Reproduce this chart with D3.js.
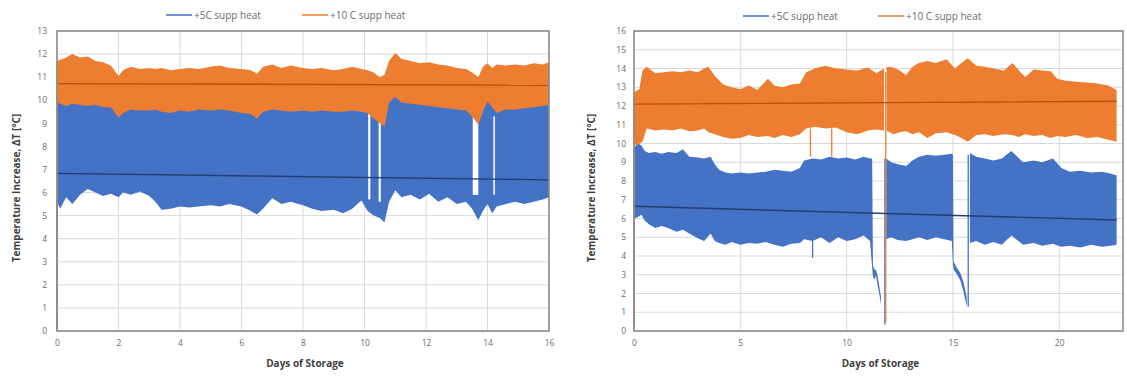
<!DOCTYPE html>
<html>
<head>
<meta charset="utf-8">
<script src="https://cdn.jsdelivr.net/npm/d3@7"></script>
<style>
  html, body { margin: 0; padding: 0; background: #fff; }
  svg { display: block; font-family: "Open Sans", Lato, sans-serif; }
</style>
</head>
<body>
<svg id="chart" width="1127" height="376"></svg>
<script>
// ---- legend labels ----
const seriesNames = ['+5C supp heat', '+10 C supp heat'];

// ---- left panel (16 days) ----
const leftDays = [0, 0.1, 0.3, 0.5, 0.75, 1.0, 1.25, 1.5, 1.75, 2.0, 2.15, 2.4, 2.7, 3.0, 3.2, 3.4, 3.7, 4.0, 4.3, 4.6, 5.0, 5.3, 5.6, 6.0, 6.3, 6.5, 6.7, 7.0, 7.3, 7.6, 8.0, 8.3, 8.6, 9.0, 9.3, 9.6, 9.9, 10.1, 10.3, 10.5, 10.65, 10.8, 11.0, 11.2, 11.5, 11.8, 12.1, 12.4, 12.7, 13.0, 13.3, 13.5, 13.7, 13.85, 14.0, 14.15, 14.3, 14.6, 14.9, 15.2, 15.5, 15.8, 16.0];
const leftOrangeHi = [11.7, 11.75, 11.85, 12.0, 11.85, 11.9, 11.7, 11.65, 11.5, 11.05, 11.3, 11.45, 11.35, 11.4, 11.35, 11.4, 11.3, 11.35, 11.4, 11.35, 11.45, 11.5, 11.4, 11.35, 11.3, 11.15, 11.45, 11.55, 11.4, 11.5, 11.4, 11.35, 11.4, 11.3, 11.35, 11.45, 11.35, 11.3, 11.2, 11.0, 11.1, 11.7, 12.05, 11.8, 11.7, 11.6, 11.65, 11.55, 11.5, 11.4, 11.35, 11.2, 11.0, 11.45, 11.6, 11.4, 11.55, 11.5, 11.55, 11.5, 11.6, 11.55, 11.65];
const leftOrangeLo = [9.9, 9.85, 9.75, 9.85, 9.8, 9.75, 9.8, 9.7, 9.7, 9.25, 9.45, 9.6, 9.55, 9.55, 9.6, 9.5, 9.45, 9.55, 9.5, 9.6, 9.55, 9.6, 9.55, 9.45, 9.4, 9.2, 9.5, 9.6, 9.55, 9.5, 9.55, 9.5, 9.55, 9.5, 9.5, 9.55, 9.5, 9.45, 9.2, 9.0, 8.85, 9.9, 10.15, 9.9, 9.85, 9.8, 9.75, 9.7, 9.65, 9.6, 9.55, 9.3, 8.95, 9.5, 9.95, 9.7, 9.45, 9.6, 9.6, 9.65, 9.7, 9.75, 9.8];
const leftBlueHi = [10.0, 10.0, 9.9, 10.0, 9.95, 9.9, 9.95, 9.85, 9.85, 9.4, 9.6, 9.75, 9.7, 9.7, 9.75, 9.65, 9.6, 9.7, 9.65, 9.75, 9.7, 9.75, 9.7, 9.6, 9.55, 9.35, 9.65, 9.75, 9.7, 9.65, 9.7, 9.65, 9.7, 9.65, 9.65, 9.7, 9.65, 9.6, 9.35, 9.15, 9.0, 10.05, 10.3, 10.05, 10.0, 9.95, 9.9, 9.85, 9.8, 9.75, 9.7, 9.45, 9.1, 9.65, 10.1, 9.85, 9.6, 9.75, 9.75, 9.8, 9.85, 9.9, 9.95];
const leftBlueLo = [5.6, 5.3, 5.8, 5.5, 5.9, 6.15, 6.0, 5.85, 5.95, 5.8, 6.0, 5.9, 6.05, 5.85, 5.6, 5.25, 5.3, 5.4, 5.35, 5.4, 5.45, 5.4, 5.5, 5.4, 5.2, 5.05, 5.3, 5.75, 5.5, 5.6, 5.45, 5.3, 5.2, 5.25, 5.1, 5.3, 5.65, 5.2, 5.0, 4.9, 4.7, 5.6, 6.1, 5.8, 5.9, 5.7, 5.95, 5.6, 5.8, 5.5, 5.6, 5.3, 4.8, 5.2, 5.5, 5.1, 5.4, 5.5, 5.6, 5.5, 5.6, 5.7, 5.8];
// quiet stretches in the +5C record: [start day, end day, low, high]
const leftBlueGaps = [[10.12, 10.19, 5.7, 9.4], [10.46, 10.53, 5.6, 9.3], [13.52, 13.7, 5.9, 9.4], [14.19, 14.24, 5.9, 9.3]];
// single readings drawn as thin lines: [day, low, high]
const leftBlueSpikes = [[0.0, 0.0, 5.6]];
const leftOrangeSpikes = [[0.0, 0.0, 11.7]];
// linear trendlines: values at first and last day
const leftTrendDays = [0, 16];
const leftBlueTrend = [6.83, 6.55];
const leftOrangeTrend = [10.72, 10.65];
const leftXTicks = [0, 2, 4, 6, 8, 10, 12, 14, 16];
const leftYTicks = [0, 1, 2, 3, 4, 5, 6, 7, 8, 9, 10, 11, 12, 13];

// ---- right panel (~23 days) ----
const rightBlueDays = [0.02, 0.2, 0.35, 0.5, 0.7, 1.0, 1.3, 1.6, 2.0, 2.3, 2.6, 3.0, 3.3, 3.6, 3.8, 4.0, 4.3, 4.6, 5.0, 5.4, 5.8, 6.2, 6.6, 7.0, 7.4, 7.8, 8.0, 8.4, 8.8, 9.2, 9.6, 10.0, 10.4, 10.8, 11.1, 11.2, 11.24, 11.3, 11.38, 11.45, 11.55, 11.62, 11.7, 11.86, 12.1, 12.4, 12.8, 13.1, 13.4, 13.8, 14.2, 14.6, 14.95, 15.0, 15.03, 15.2, 15.35, 15.5, 15.65, 15.7, 15.8, 16.1, 16.5, 16.9, 17.3, 17.75, 18.3, 18.8, 19.2, 19.7, 20.1, 20.5, 21.0, 21.5, 22.0, 22.4, 22.7];
const rightBlueHi = [9.8, 10.0, 9.9, 9.6, 9.5, 9.55, 9.45, 9.55, 9.5, 9.7, 9.3, 9.25, 9.2, 9.3, 8.9, 8.6, 8.45, 8.4, 8.45, 8.4, 8.45, 8.5, 8.6, 8.55, 8.5, 8.7, 9.1, 9.2, 9.15, 9.3, 9.2, 9.25, 9.15, 9.3, 9.2, 9.2, 3.5, 3.3, 3.25, 3.0, 2.3, 1.8, null, 9.2, 9.0, 8.9, 8.8, 9.1, 9.3, 9.4, 9.35, 9.4, 9.45, 9.4, 3.7, 3.35, 3.1, 2.6, 1.8, null, 9.5, 9.3, 9.2, 9.1, 9.2, 9.6, 9.0, 9.1, 9.0, 9.2, 8.7, 8.5, 8.55, 8.45, 8.5, 8.4, 8.3];
const rightBlueLo = [6.0, 6.1, 6.2, 5.9, 5.7, 5.5, 5.6, 5.5, 5.3, 5.4, 5.2, 4.95, 4.8, 5.2, 4.8, 4.7, 4.6, 4.75, 4.6, 4.7, 4.65, 4.75, 4.6, 4.5, 4.65, 4.7, 4.9, 4.8, 5.0, 4.7, 5.0, 4.8, 4.9, 5.1, 4.8, 3.4, 2.9, 2.75, 2.95, 2.5, 1.9, 1.4, null, 4.9, 5.0, 4.85, 4.8, 4.9, 5.0, 4.85, 5.0, 4.9, 4.8, 3.6, 3.3, 3.0, 2.7, 2.1, 1.3, null, 4.7, 4.8, 4.6, 4.75, 4.6, 5.1, 4.6, 4.7, 4.55, 4.65, 4.5, 4.55, 4.45, 4.6, 4.5, 4.55, 4.6];
const rightOrangeDays = [0.0, 0.1, 0.25, 0.4, 0.6, 1.0, 1.4, 1.8, 2.2, 2.6, 3.0, 3.3, 3.5, 3.8, 4.2, 4.6, 5.0, 5.4, 5.8, 6.3, 6.6, 7.0, 7.4, 7.8, 8.1, 8.5, 9.0, 9.5, 10.0, 10.5, 11.0, 11.4, 11.76, 11.8, 11.88, 12.2, 12.5, 12.8, 13.1, 13.4, 13.8, 14.2, 14.7, 15.1, 15.4, 15.7, 16.1, 16.5, 16.9, 17.4, 17.8, 18.1, 18.4, 18.8, 19.2, 19.6, 19.9, 20.3, 20.8, 21.3, 21.8, 22.3, 22.7];
const rightOrangeHi = [12.7, 12.8, 12.9, 13.9, 14.1, 13.75, 13.8, 13.85, 13.8, 13.9, 13.8, 14.0, 14.1, 13.6, 13.15, 13.0, 12.9, 13.1, 12.85, 13.45, 13.1, 13.0, 13.15, 13.2, 13.8, 14.0, 14.15, 14.0, 13.95, 13.9, 14.05, 13.75, 14.0, null, 14.1, 14.05, 13.9, 13.65, 14.1, 14.3, 14.4, 14.3, 14.5, 14.0, 14.3, 14.55, 14.15, 14.1, 14.0, 13.9, 14.3, 13.9, 13.55, 13.95, 13.9, 13.85, 13.45, 13.35, 13.3, 13.25, 13.2, 13.1, 12.85];
const rightOrangeLo = [10.0, 9.9, 10.0, 10.1, 10.8, 10.7, 10.75, 10.7, 10.8, 10.65, 10.7, 10.8, 10.6, 10.5, 10.35, 10.25, 10.3, 10.45, 10.35, 10.4, 10.3, 10.45, 10.35, 10.5, 10.8, 10.9, 10.8, 10.85, 10.6, 10.5, 10.7, 10.75, 10.7, null, 10.7, 10.5, 10.6, 10.65, 10.5, 10.6, 10.3, 10.55, 10.6, 10.45, 10.3, 10.1, 10.45, 10.5, 10.4, 10.5, 10.45, 10.35, 10.5, 10.4, 10.45, 10.3, 10.4, 10.35, 10.45, 10.3, 10.35, 10.2, 10.1];
const rightBlueSpikes = [[0.01, 0.3, 9.8], [8.4, 3.9, 5.0], [11.8, 0.35, 9.2], [15.72, 1.3, 9.4]];
const rightOrangeSpikes = [[0.0, 0.2, 12.7], [8.3, 9.3, 10.8], [9.3, 9.3, 10.8], [11.84, 0.5, 13.8]];
const rightTrendDays = [0, 22.7];
const rightBlueTrend = [6.65, 5.92];
const rightOrangeTrend = [12.1, 12.25];
const rightXTicks = [0, 5, 10, 15, 20];
const rightYTicks = [0, 1, 2, 3, 4, 5, 6, 7, 8, 9, 10, 11, 12, 13, 14, 15, 16];

const BLUE = '#4472c4', ORANGE = '#ed7d31';
const BLUE_TREND = '#203f74', ORANGE_TREND = '#b9500c';
const FONT = '"Open Sans", Lato, sans-serif';

const svg = d3.select('#chart');

function drawPanel(p) {
  const x = d3.scaleLinear().domain(p.xDomain).range([p.left, p.right]);
  const y = d3.scaleLinear().domain(p.yDomain).range([p.bottom, p.top]);
  const g = svg.append('g');

  // grid
  g.append('g').selectAll('line').data(p.yTicks).join('line')
    .attr('x1', p.left).attr('x2', p.right)
    .attr('y1', d => y(d)).attr('y2', d => y(d))
    .attr('stroke', '#d9d9d9').attr('stroke-width', 1);
  g.append('g').selectAll('line').data(p.xTicks).join('line')
    .attr('x1', d => x(d)).attr('x2', d => x(d))
    .attr('y1', p.top).attr('y2', p.bottom)
    .attr('stroke', '#d9d9d9').attr('stroke-width', 1);

  const area = d3.area()
    .defined(d => d[1] != null)
    .x(d => x(d[0])).y0(d => y(d[2])).y1(d => y(d[1]));

  const spike = (sel, data, color) => sel.selectAll('line').data(data).join('line')
    .attr('x1', d => x(d[0])).attr('x2', d => x(d[0]))
    .attr('y1', d => y(d[1])).attr('y2', d => y(d[2]))
    .attr('stroke', color).attr('stroke-width', 1.3);

  // +5C band
  g.append('path').datum(d3.zip(p.blueDays, p.blueHi, p.blueLo))
    .attr('d', area).attr('fill', BLUE);
  spike(g.append('g'), p.blueSpikes, BLUE);
  g.append('g').selectAll('rect').data(p.blueGaps).join('rect')
    .attr('x', d => x(d[0])).attr('width', d => x(d[1]) - x(d[0]))
    .attr('y', d => y(d[3])).attr('height', d => y(d[2]) - y(d[3]))
    .attr('fill', '#fff');

  // +10C band
  g.append('path').datum(d3.zip(p.orangeDays, p.orangeHi, p.orangeLo))
    .attr('d', area).attr('fill', ORANGE);
  spike(g.append('g'), p.orangeSpikes, ORANGE);

  // trendlines
  const line = d3.line().x(d => x(d[0])).y(d => y(d[1]));
  g.append('path').datum(d3.zip(p.trendDays, p.blueTrend))
    .attr('d', line).attr('fill', 'none').attr('stroke', BLUE_TREND).attr('stroke-width', 1.4);
  g.append('path').datum(d3.zip(p.trendDays, p.orangeTrend))
    .attr('d', line).attr('fill', 'none').attr('stroke', ORANGE_TREND).attr('stroke-width', 1.4);

  // plot border
  g.append('rect')
    .attr('x', p.left).attr('y', p.top)
    .attr('width', p.right - p.left).attr('height', p.bottom - p.top)
    .attr('fill', 'none').attr('stroke', '#8c8c8c').attr('stroke-width', 1.6);

  // axes
  const ax = g.append('g').attr('transform', `translate(0,${p.bottom})`)
    .call(d3.axisBottom(x).tickValues(p.xTicks).tickSize(0).tickPadding(9).tickFormat(d3.format('d')));
  const ay = g.append('g').attr('transform', `translate(${p.left},0)`)
    .call(d3.axisLeft(y).tickValues(p.yTicks).tickSize(0).tickPadding(p.yPad).tickFormat(d3.format('d')));
  [ax, ay].forEach(a => {
    a.select('.domain').remove();
    a.selectAll('text').attr('fill', '#6b6b6b').style('font-size', '8.5px').style('font-family', FONT);
  });

  // axis titles
  g.append('text')
    .attr('transform', `translate(${p.yTitleX},${(p.top + p.bottom) / 2 + 7}) rotate(-90)`)
    .attr('text-anchor', 'middle').attr('fill', '#404040')
    .style('font-size', '10px').style('font-weight', 700)
    .text('Temperature Increase, ΔT [°C]');
  g.append('text')
    .attr('x', (p.left + p.right) / 2 + 2).attr('y', 367)
    .attr('text-anchor', 'middle').attr('fill', '#404040')
    .style('font-size', '10px').style('font-weight', 700)
    .text('Days of Storage');

  // legend
  const lg = g.append('g').selectAll('g').data(seriesNames).join('g')
    .attr('transform', (d, i) => `translate(${p.legendX[i]},${p.legendY})`);
  lg.append('line').attr('x1', 0).attr('x2', 26).attr('y1', 0).attr('y2', 0)
    .attr('stroke', (d, i) => [BLUE, ORANGE][i]).attr('stroke-width', 1.5);
  lg.append('text').attr('x', 28).attr('y', 3.5)
    .attr('fill', '#6b6b6b').style('font-size', '10px')
    .text(d => d);
}

drawPanel({
  left: 57, right: 549, top: 31, bottom: 331,
  xDomain: [0, 16], yDomain: [0, 13],
  xTicks: leftXTicks, yTicks: leftYTicks, yPad: 10,
  blueDays: leftDays, blueHi: leftBlueHi, blueLo: leftBlueLo,
  orangeDays: leftDays, orangeHi: leftOrangeHi, orangeLo: leftOrangeLo,
  blueGaps: leftBlueGaps, blueSpikes: leftBlueSpikes, orangeSpikes: leftOrangeSpikes,
  trendDays: leftTrendDays, blueTrend: leftBlueTrend, orangeTrend: leftOrangeTrend,
  yTitleX: 20, legendX: [166, 302], legendY: 15
});

drawPanel({
  left: 634, right: 1123, top: 31, bottom: 331,
  xDomain: [0, 23], yDomain: [0, 16],
  xTicks: rightXTicks, yTicks: rightYTicks, yPad: 8,
  blueDays: rightBlueDays, blueHi: rightBlueHi, blueLo: rightBlueLo,
  orangeDays: rightOrangeDays, orangeHi: rightOrangeHi, orangeLo: rightOrangeLo,
  blueGaps: [], blueSpikes: rightBlueSpikes, orangeSpikes: rightOrangeSpikes,
  trendDays: rightTrendDays, blueTrend: rightBlueTrend, orangeTrend: rightOrangeTrend,
  yTitleX: 595, legendX: [743, 878], legendY: 16
});
</script>
</body>
</html>
